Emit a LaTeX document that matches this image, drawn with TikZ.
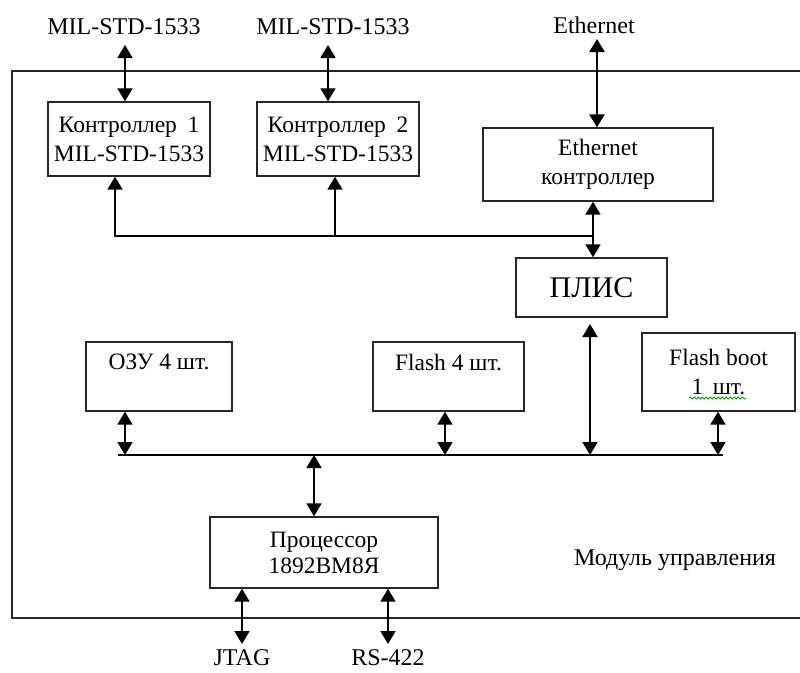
\documentclass[tikz,border=0pt]{standalone}
\usepackage{fontspec}
\setmainfont{Liberation Serif}
\usetikzlibrary{arrows.meta,decorations.pathmorphing}
\begin{document}
\begin{tikzpicture}[x=1pt,y=-1pt,
  box/.style={draw=black!85, line width=1.4pt, align=center, inner sep=0pt, font=\fontsize{23.5}{29}\selectfont},
  lbl/.style={font=\fontsize{24}{28}\selectfont, inner sep=0pt},
  link/.style={line width=1.8pt, {Triangle[width=15pt,length=13pt]}-{Triangle[width=15pt,length=13pt]}},
  uplink/.style={line width=1.8pt, -{Triangle[width=15pt,length=13pt]}},
  wire/.style={line width=1.8pt},
  frame/.style={line width=1.4pt, draw=black!85}]
\useasboundingbox (0,0) rectangle (800,672);
% outer frame (right side runs off the picture)
\draw[frame] (800,71) -- (12,71) -- (12,618) -- (800,618);
% outside labels
\node[lbl] (m1) at (124,27) {MIL-STD-1533};
\node[lbl] (m2) at (333,27) {MIL-STD-1533};
\node[lbl] (eth) at (594,25) {Ethernet};
\node[lbl] (jt) at (242,658) {JTAG};
\node[lbl] (rs) at (388,658) {RS-422};
\node[lbl] (mod) at (675,560) {Модуль управления};
% boxes
\node[box, minimum width=162pt, minimum height=74pt] (c1) at (129,139) {Контроллер\hspace{0.45em}1\\MIL-STD-1533};
\node[box, minimum width=162pt, minimum height=74pt] (c2) at (338,139) {Контроллер\hspace{0.45em}2\\MIL-STD-1533};
\node[box, minimum width=230pt, minimum height=73pt] (ec) at (598,164.5) {Ethernet\\контроллер};
\node[box, minimum width=151pt, minimum height=59pt, font=\fontsize{30}{34}\selectfont] (pl) at (591.5,287.5) {ПЛИС};
\node[box, minimum width=146pt, minimum height=69pt] (oz) at (159,376.5) {ОЗУ 4 шт.\\\mbox{}};
\node[box, minimum width=151pt, minimum height=69pt] (fl) at (448.5,376.5) {Flash 4 шт.\\\mbox{}};
\node[box, minimum width=153pt, minimum height=78pt] (fb) at (718.5,372) {Flash boot\\1\hspace{0.4em}шт.};
\node[box, minimum width=228pt, minimum height=71pt, font=\fontsize{23.5}{26}\selectfont] (pr) at (324,552.5) {Процессор\\1892ВМ8Я};
% spell-check underline
\draw[green!60!black, line width=0.8pt, decorate, decoration={snake, amplitude=1.1pt, segment length=4pt}] (689,398) -- (746,398);
% top connectors
\coordinate (a1) at (125,45);
\coordinate (a2) at (328,45);
\coordinate (a3) at (597,39);
\draw[link] (a1) -- (a1 |- c1.north);
\draw[link] (a2) -- (a2 |- c2.north);
\draw[link, line width=2.6pt] (a3) -- (a3 |- ec.north);
% upper bus
\coordinate (u0) at (593,236);
\coordinate (u1) at (115,236);
\coordinate (u2) at (335,236);
\draw[uplink] (u0) -- (u1) -- (u1 |- c1.south);
\draw[uplink] (u2) -- (u2 |- c2.south);
\draw[link] (u0 |- ec.south) -- (u0 |- pl.north);
% lower bus
\coordinate (bL) at (118,455);
\coordinate (bR) at (723,455);
\draw[wire] (bL) -- (bR);
\coordinate (p1) at (590,324);
\draw[link] (p1) -- (p1 |- bL);
\coordinate (x1) at (125,455);
\coordinate (x2) at (445,455);
\coordinate (x3) at (718,455);
\coordinate (x4) at (314,455);
\draw[link] (x1 |- oz.south) -- (x1);
\draw[link] (x2 |- fl.south) -- (x2);
\draw[link] (x3 |- fb.south) -- (x3);
\draw[link] (x4) -- (x4 |- pr.north);
% processor outputs
\coordinate (j1) at (242,644);
\coordinate (r1) at (388,644);
\draw[link] (j1 |- pr.south) -- (j1);
\draw[link] (r1 |- pr.south) -- (r1);
\end{tikzpicture}
\end{document}
